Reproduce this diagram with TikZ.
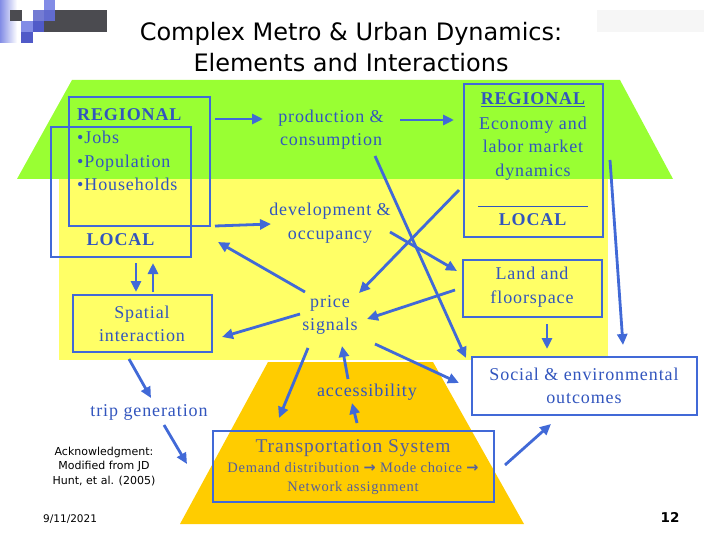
\documentclass[tikz,border=0pt]{standalone}
\usepackage{fontspec}
\setmainfont{Liberation Serif}[LetterSpace=5]
\newfontfamily\titlefont{DejaVu Sans}
\newfontfamily\symfont{DejaVu Sans}
\usetikzlibrary{arrows.meta}
\definecolor{lgreen}{RGB}{153,255,51}
\definecolor{lyellow}{RGB}{255,255,102}
\definecolor{lorange}{RGB}{255,204,0}
\definecolor{lineblue}{RGB}{65,105,215}
\definecolor{txtblue}{RGB}{50,85,190}
\definecolor{tsblue}{RGB}{85,95,155}
\definecolor{logodark}{RGB}{75,75,80}
\definecolor{logoblue}{RGB}{80,90,200}
\definecolor{logolight}{RGB}{130,140,230}
\begin{document}
\begin{tikzpicture}[x=1pt,y=-1pt,
  box/.style={draw=lineblue, line width=2.6pt, inner sep=0pt},
  arr/.style={lineblue, line width=2.8pt, -{Triangle[length=11pt,width=10pt]}},
  lbl/.style={text=txtblue, font=\fontsize{18}{23.5}\selectfont, align=center, inner sep=0pt},
  tslbl/.style={text=tsblue, align=center, inner sep=0pt},
  sans/.style={text=black, align=center, inner sep=0pt, font=\titlefont\fontsize{11}{14.5}\selectfont}]
\useasboundingbox (0,0) rectangle (720,540);
\fill[white] (0,0) rectangle (720,540);
% logo
\shade[left color=logolight, right color=white] (0,0) rectangle (17,43);
\fill[logodark] (10,10) rectangle (22,21);
\fill[logolight] (21,21) rectangle (33,32);
\fill[logoblue] (21,32) rectangle (33,43);
\fill[logoblue!80] (33,10) rectangle (44,21);
\fill[logoblue] (33,21) rectangle (44,32);
\fill[logolight] (44,0) rectangle (55,10);
\fill[logoblue!90] (44,10) rectangle (55,21);
\fill[logodark] (55,10) rectangle (107,32);
\fill[logodark] (44,21) rectangle (55,32);
\fill[gray!7] (597,10) rectangle (704,32);
% title
\node[inner sep=0pt, align=center, font=\titlefont\fontsize{24}{31}\selectfont] (title) at (351,47.5)
  {Complex Metro \& Urban Dynamics:\\Elements and Interactions};
% backgrounds
\fill[lyellow] (59,177) rectangle (608,360);
\fill[lgreen] (72,80) -- (620,80) -- (673,179) -- (17,179) -- cycle;
\fill[lorange] (268,362) -- (433,362) -- (524,524) -- (180,524) -- cycle;
% boxes
\node[box, minimum width=141pt, minimum height=129pt] (regbox) at (139.5,161.5) {};
\node[box, minimum width=140pt, minimum height=130pt] (locbox) at (121,192) {};
\node[box, minimum width=139pt, minimum height=153pt] (econ) at (533.5,160.5) {};
\node[box, minimum width=139pt, minimum height=57pt] (landbox) at (532.5,288.5) {};
\node[box, fill=white, minimum width=225pt, minimum height=58pt] (socbox) at (584.5,386) {};
\node[box, minimum width=139pt, minimum height=57pt] (spbox) at (142.5,323.5) {};
\node[box, minimum width=281pt, minimum height=71pt] (tsbox) at (353.5,466.5) {};
% texts
\node[lbl, align=left, anchor=west] (regtxt) at (77,149.5)
  {\textbf{REGIONAL}\\•Jobs\\•Population\\•Households};
\node[lbl] (loctxt) at (121,240) {\textbf{LOCAL}};
\node[lbl] (prod) at (331,129.5) {production \&\\consumption};
\node[lbl] (dev) at (330,223) {development \&\\occupancy};
\node[lbl] (econhead) at (533,100) {\textbf{\underline{REGIONAL}}};
\node[lbl] (econtxt) at (533,148.5) {Economy and\\labor market\\dynamics};
\draw[txtblue, line width=0.9pt] (478,206) -- (588,206);
\node[lbl] (econloc) at (533,220) {\textbf{LOCAL}};
\node[lbl] (land) at (532,287) {Land and\\floorspace};
\node[lbl] (price) at (330,315) {price\\signals};
\node[lbl] (spatial) at (142,324) {Spatial\\interaction};
\node[lbl] (soc) at (584,386) {Social \& environmental\\outcomes};
\node[lbl] (access) at (367,392) {accessibility};
\node[lbl] (trip) at (149,412) {trip generation};
\node[tslbl, font=\fontsize{19.5}{24}\selectfont] (tstitle) at (353,448) {Transportation System};
\node[tslbl, font=\fontsize{14.5}{19}\selectfont] (tstxt) at (353,478.5)
  {Demand distribution {\symfont\bfseries →} Mode choice {\symfont\bfseries →}\\Network assignment};
\node[sans] (ack) at (104,466.5) {Acknowledgment:\\Modified from JD\\Hunt, et al. (2005)};
\node[sans, anchor=west, font=\titlefont\fontsize{10.5}{12}\selectfont] (date) at (43,519) {9/11/2021};
\node[sans, font=\titlefont\bfseries\fontsize{13.5}{15}\selectfont] (pnum) at (670,517) {12};
% connector end points
\coordinate (a1s) at (215,119); \coordinate (a1e) at (263,119);
\coordinate (a2s) at (400,120); \coordinate (a2e) at (454,120);
\coordinate (a3s) at (215,226); \coordinate (a3e) at (271,224);
\coordinate (a4s) at (305,292); \coordinate (a4e) at (218,242);
\coordinate (a5s) at (375,156); \coordinate (a5e) at (466,358);
\coordinate (a6s) at (459,190); \coordinate (a6e) at (359,293);
\coordinate (a7s) at (390,232); \coordinate (a7e) at (457,271);
\coordinate (a8s) at (455,290); \coordinate (a8e) at (367,319);
\coordinate (a9s) at (547,324); \coordinate (a9e) at (547,349);
\coordinate (a10s) at (610,160); \coordinate (a10e) at (623,345);
\coordinate (a11s) at (375,344); \coordinate (a11e) at (459,383);
\coordinate (a12s) at (136,263); \coordinate (a12e) at (136,292);
\coordinate (a13s) at (153,292); \coordinate (a13e) at (153,263);
\coordinate (a14s) at (300,314); \coordinate (a14e) at (222,337);
\coordinate (a15s) at (129,359); \coordinate (a15e) at (151,398);
\coordinate (a16s) at (164,425); \coordinate (a16e) at (187,464);
\coordinate (a17s) at (308,348); \coordinate (a17e) at (279,418);
\coordinate (a18s) at (348,379); \coordinate (a18e) at (342,346);
\coordinate (a19s) at (357,423); \coordinate (a19e) at (352,403);
\coordinate (a20s) at (505,465); \coordinate (a20e) at (551,424);
% connectors
\foreach \i in {1,...,20} {\draw[arr] (a\i s) -- (a\i e);}
\end{tikzpicture}
\end{document}
